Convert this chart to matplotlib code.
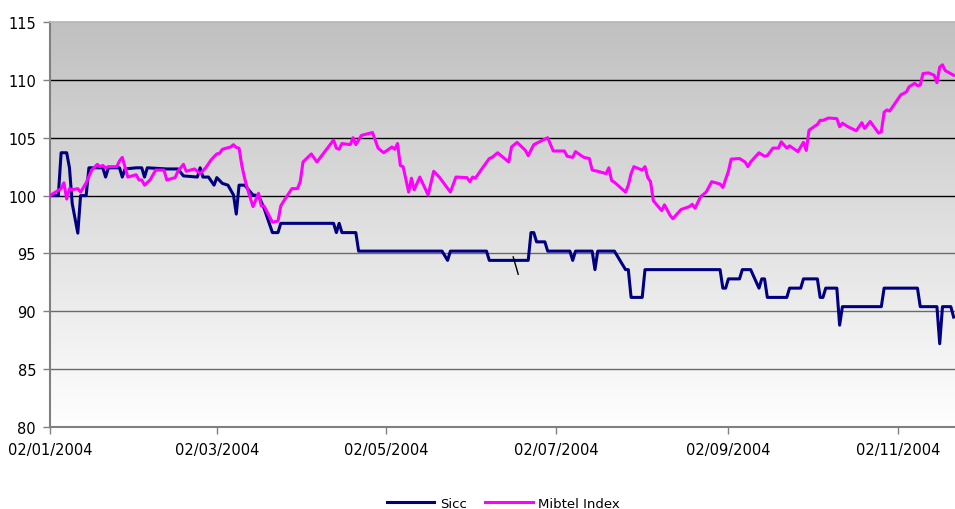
import matplotlib
matplotlib.use('Agg')
import matplotlib.pyplot as plt
import matplotlib.dates as mdates
import numpy as np
import pandas as pd

# Series are stored as (days since 02/01/2004, value)
start_date = pd.Timestamp('2004-01-02')

sicc_days = [0, 3, 4, 6, 7, 8, 10, 11, 13, 14, 19, 20, 21, 25, 26, 27, 31, 33, 34, 35,
             42, 46, 48, 53, 54, 55, 57, 59, 60, 62, 64, 66, 67, 68, 70, 73, 75, 77, 80, 82,
             83, 102, 103, 104, 105, 110, 111, 141, 143, 144, 157, 158, 172, 173, 174, 175,
             178, 179, 187, 188, 189, 195, 196, 197, 203, 207, 208, 209, 213, 214, 241, 242,
             243, 244, 248, 249, 252, 255, 256, 257, 258, 265, 266, 270, 271, 276, 277, 278,
             279, 283, 284, 285, 299, 300, 312, 313, 319, 320, 321, 324, 325]
sicc_values = [100, 100, 103.7, 103.7, 102.4, 99.3, 96.75, 100, 100, 102.4, 102.4, 101.6,
               102.4, 102.4, 101.6, 102.3, 102.4, 102.4, 101.6, 102.4, 102.3, 102.3, 101.7,
               101.6, 102.4, 101.6, 101.6, 100.9, 101.55, 101.05, 100.9, 100.05, 98.4, 100.9,
               100.9, 100.05, 100, 98.9, 96.8, 96.8, 97.6, 97.6, 96.8, 97.6, 96.8, 96.8, 95.2,
               95.2, 94.4, 95.2, 95.2, 94.4, 94.4, 96.8, 96.8, 96.0, 96.0, 95.2, 95.2, 94.4,
               95.2, 95.2, 93.6, 95.2, 95.2, 93.6, 93.6, 91.2, 91.2, 93.6, 93.6, 92.0, 92.0,
               92.8, 92.8, 93.6, 93.6, 92.0, 92.8, 92.8, 91.2, 91.2, 92.0, 92.0, 92.8, 92.8,
               91.2, 91.2, 92.0, 92.0, 88.8, 90.4, 90.4, 92.0, 92.0, 90.4, 90.4, 87.2, 90.4,
               90.4, 89.5]

mibtel_days = [0, 4, 5, 6, 7, 8, 10, 11, 13, 15, 17, 18, 19, 20, 21, 24, 25, 26, 28, 31,
               32, 33, 34, 36, 38, 41, 42, 45, 46, 48, 49, 52, 54, 56, 58, 60, 61, 62, 65, 66,
               67, 68, 69, 70, 71, 73, 75, 76, 77, 80, 82, 83, 84, 87, 89, 90, 91, 94, 96, 102,
               103, 104, 105, 108, 109, 110, 112, 116, 118, 120, 123, 124, 125, 126, 127, 129,
               130, 131, 133, 136, 138, 140, 144, 146, 150, 151, 152, 153, 155, 158, 159, 161,
               165, 166, 168, 171, 172, 174, 179, 181, 185, 186, 188, 189, 192, 194, 195, 197,
               200, 201, 202, 203, 207, 208, 209, 210, 213, 214, 215, 216, 217, 220, 221, 223,
               224, 227, 230, 231, 232, 234, 236, 238, 241, 242, 244, 245, 248, 250, 251, 252,
               255, 257, 258, 260, 262, 263, 265, 266, 269, 271, 272, 273, 276, 277, 278, 280,
               283, 284, 285, 287, 290, 292, 293, 295, 298, 299, 300, 301, 302, 306, 308, 309,
               311, 312, 313, 314, 316, 318, 319, 320, 321, 322, 325]
mibtel_values = [100, 100.6, 101.1, 99.7, 100.6, 100.5, 100.6, 100.3, 101.1, 102.2, 102.7,
                 102.5, 102.6, 102.4, 102.5, 102.5, 103.0, 103.3, 101.6, 101.8, 101.35, 101.35,
                 100.9, 101.35, 102.2, 102.2, 101.35, 101.55, 102.1, 102.7, 102.1, 102.3, 101.9,
                 102.4, 103.1, 103.6, 103.65, 104.0, 104.2, 104.4, 104.15, 104.1, 102.6, 101.5,
                 100.6, 99.05, 100.2, 99.1, 99.1, 97.7, 97.8, 99.1, 99.5, 100.6, 100.6, 101.2,
                 102.9, 103.6, 102.9, 104.8, 104.1, 104.0, 104.5, 104.4, 105.0, 104.4, 105.2,
                 105.45, 104.1, 103.7, 104.2, 104.0, 104.5, 102.6, 102.5, 100.3, 101.5, 100.5,
                 101.6, 100.05, 102.1, 101.6, 100.3, 101.6, 101.55, 101.2, 101.6, 101.5, 102.2,
                 103.2, 103.3, 103.7, 102.9, 104.2, 104.6, 103.9, 103.45, 104.4, 105.0, 103.85,
                 103.85, 103.4, 103.3, 103.8, 103.3, 103.2, 102.2, 102.1, 101.9, 102.4, 101.3,
                 101.15, 100.3, 100.9, 101.9, 102.5, 102.2, 102.5, 101.55, 101.2, 99.55, 98.7,
                 99.2, 98.3, 98.0, 98.8, 99.05, 99.25, 98.9, 99.9, 100.3, 101.2, 101.0, 100.7,
                 102.1, 103.15, 103.2, 102.9, 102.5, 102.9, 103.7, 103.4, 103.45, 104.1, 104.1,
                 104.65, 104.1, 104.3, 103.8, 104.6, 103.9, 105.65, 106.15, 106.5, 106.5, 106.7,
                 106.65, 105.95, 106.25, 105.95, 105.6, 106.3, 105.8, 106.4, 105.4, 105.5, 107.2,
                 107.4, 107.3, 108.7, 108.95, 109.4, 109.7, 109.5, 109.55, 110.55, 110.6, 110.4,
                 109.75, 111.1, 111.3, 110.8, 110.4]

# small stray black stroke visible in the original
stray_days = [166.6, 168.4]
stray_values = [94.7, 93.2]

tick_dates = ['2004-01-02', '2004-03-02', '2004-05-02', '2004-07-02', '2004-09-02', '2004-11-02']
y_ticks = [80, 85, 90, 95, 100, 105, 110, 115]


def to_dates(days):
    return start_date + pd.to_timedelta(np.array(days, dtype=float), unit='D')


fig = plt.figure(figsize=(9.55, 5.10), dpi=100)
ax = fig.add_axes([50 / 955, 1 - 428 / 510, 905 / 955, 405 / 510])

x_min = mdates.date2num(start_date)
x_max = mdates.date2num(start_date + pd.Timedelta(days=325.5))

# gradient background, grey at top to white at bottom
grad = np.linspace(0, 1, 256).reshape(-1, 1)
ax.imshow(grad, cmap=matplotlib.colors.LinearSegmentedColormap.from_list(
    'bg', ['#c0c0c0', '#ffffff']), aspect='auto', origin='upper',
    extent=[x_min, x_max, 80, 115], zorder=0)

for v in [85, 90, 95]:
    ax.axhline(v, color='#6a6a6a', lw=1.0, zorder=1)
for v in [100, 105, 110]:
    ax.axhline(v, color='#000000', lw=1.0, zorder=1)

ax.plot(to_dates(sicc_days), sicc_values, color='#000080', lw=2.2, label='Sicc', zorder=3)
ax.plot(to_dates(mibtel_days), mibtel_values, color='#ff00ff', lw=2.2, label='Mibtel Index', zorder=3)
ax.plot(to_dates(stray_days), stray_values, color='black', lw=1.0, zorder=4)

ax.set_xlim(x_min, x_max)
ax.set_ylim(80, 115)
ax.set_yticks(y_ticks)
ax.set_xticks(mdates.date2num(pd.to_datetime(tick_dates)))
ax.xaxis.set_major_formatter(mdates.DateFormatter('%d/%m/%Y'))

for s in ['left', 'bottom']:
    ax.spines[s].set_color('#808080')
    ax.spines[s].set_linewidth(1.5)
ax.spines['top'].set_color('#b4b4b4')
ax.spines['top'].set_linewidth(1.2)
ax.spines['right'].set_visible(False)

ax.tick_params(axis='both', direction='out', length=5, color='#808080', width=1,
               labelsize=10.5, labelcolor='black')
ax.tick_params(axis='y', pad=5)
ax.tick_params(axis='x', pad=6)

fig.legend(loc='lower center', bbox_to_anchor=(0.527, -0.025), ncol=2, frameon=False,
           fontsize=9.5, handlelength=3.6, handletextpad=0.4, columnspacing=1.4)

plt.savefig('out.png', dpi=100)
